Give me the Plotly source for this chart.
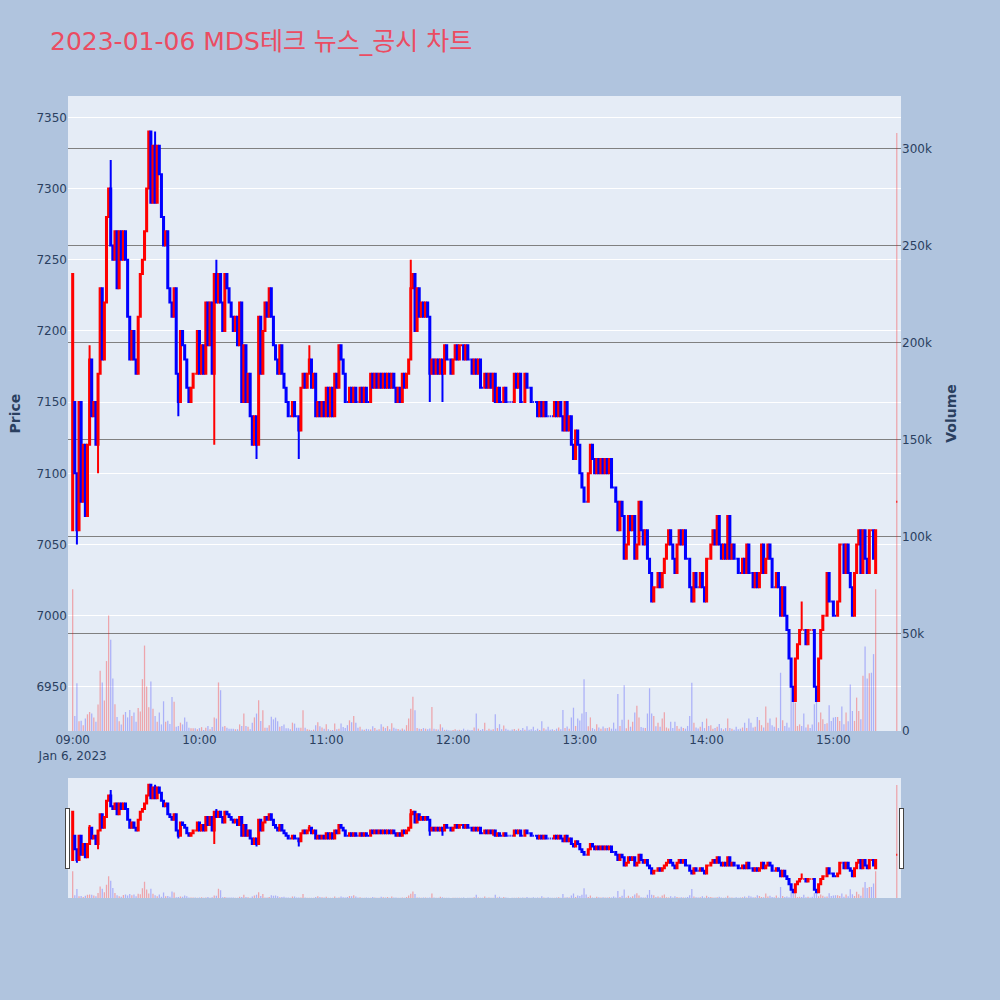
import pandas as pd
import plotly.graph_objects as go

# ---------------- 1-minute data, 09:00 .. 15:20 + closing auction ----------------
session_start = "2023-01-06 09:00"

closes = [
    7240, 7100, 7060, 7150, 7080, 7120, 7070, 7120, 7180, 7140,
    7150, 7120, 7170, 7230, 7180, 7220, 7280, 7300, 7260, 7250,
    7270, 7230, 7270, 7250, 7270, 7250, 7210, 7180, 7200, 7180,
    7170, 7210, 7240, 7250, 7270, 7300, 7340, 7290, 7330, 7290,
    7330, 7310, 7280, 7260, 7270, 7230, 7220, 7210, 7230, 7170,
    7150, 7200, 7190, 7180, 7160, 7150, 7160, 7170, 7170, 7200,
    7170, 7190, 7170, 7220, 7190, 7220, 7170, 7240, 7220, 7240,
    7220, 7200, 7240, 7230, 7220, 7210, 7200, 7210, 7190, 7220,
    7150, 7190, 7150, 7170, 7140, 7120, 7140, 7120, 7210, 7170,
    7200, 7220, 7210, 7230, 7210, 7190, 7180, 7170, 7190, 7170,
    7160, 7150, 7140, 7140, 7150, 7140, 7140, 7130, 7160, 7170,
    7160, 7170, 7180, 7160, 7170, 7140, 7150, 7140, 7150, 7140,
    7160, 7140, 7160, 7140, 7170, 7160, 7190, 7180, 7170, 7150,
    7150, 7160, 7150, 7160, 7150, 7150, 7160, 7150, 7160, 7150,
    7150, 7170, 7160, 7170, 7160, 7170, 7160, 7170, 7160, 7170,
    7160, 7170, 7160, 7150, 7160, 7150, 7170, 7160, 7170, 7180,
    7230, 7240, 7200, 7230, 7210, 7220, 7210, 7220, 7210, 7170,
    7180, 7170, 7180, 7170, 7180, 7170, 7190, 7180, 7180, 7170,
    7180, 7190, 7180, 7190, 7190, 7180, 7190, 7180, 7180, 7170,
    7180, 7170, 7180, 7160, 7160, 7170, 7160, 7170, 7160, 7170,
    7150, 7160, 7150, 7150, 7160, 7150, 7150, 7150, 7150, 7170,
    7160, 7170, 7150, 7150, 7170, 7160, 7160, 7150, 7150, 7150,
    7140, 7150, 7140, 7150, 7140, 7140, 7140, 7140, 7150, 7140,
    7150, 7140, 7130, 7150, 7130, 7140, 7120, 7110, 7130, 7120,
    7100, 7090, 7080, 7080, 7100, 7120, 7110, 7100, 7110, 7100,
    7110, 7100, 7110, 7100, 7110, 7090, 7090, 7080, 7060, 7080,
    7070, 7040, 7050, 7070, 7060, 7070, 7040, 7050, 7080, 7060,
    7050, 7060, 7040, 7030, 7010, 7020, 7020, 7030, 7020, 7030,
    7040, 7050, 7060, 7050, 7040, 7030, 7050, 7060, 7050, 7060,
    7040, 7040, 7020, 7010, 7030, 7020, 7020, 7030, 7020, 7010,
    7040, 7040, 7050, 7060, 7050, 7070, 7050, 7040, 7050, 7040,
    7070, 7040, 7050, 7040, 7040, 7030, 7030, 7040, 7030, 7050,
    7030, 7030, 7020, 7030, 7020, 7030, 7050, 7030, 7040, 7050,
    7040, 7020, 7020, 7030, 7020, 7000, 7020, 7000, 6990, 6970,
    6950, 6940, 6970, 6980, 6990, 6990, 6990, 6980, 6990, 6990,
    6990, 6950, 6940, 6970, 6990, 7000, 7000, 7030, 7010, 7010,
    7000, 7000, 7010, 7050, 7050, 7030, 7050, 7030, 7020, 7000,
    7030, 7050, 7060, 7030, 7060, 7040, 7030, 7060, 7060, 7040,
    7060,
]

volumes = [
    73000, 7700, 24600, 5000, 5300, 3000, 6400, 8600, 9800, 9000,
    7000, 4800, 13600, 31000, 25000, 15700, 36000, 59500, 47000, 27000,
    13800, 7200, 5000, 3400, 8400, 9800, 7000, 10800, 7700, 9500,
    4800, 11900, 10000, 26700, 44000, 22900, 12200, 25500, 11500, 7700,
    4800, 9500, 3400, 15300, 4800, 5300, 3600, 17500, 15000, 2200,
    2600, 4300, 3400, 7000, 4800, 1700, 1400, 1400, 1400, 900,
    1500, 2000, 500, 1700, 2600, 900, 2000, 7000, 6400, 25000,
    21000, 2200, 2600, 1700, 1200, 1200, 1200, 900, 900, 3400,
    2600, 9000, 2600, 2200, 900, 4300, 7000, 9000, 15800, 5200,
    10700, 1700, 1700, 2900, 7400, 6000, 6900, 5000, 2200, 2600,
    3400, 1400, 1400, 900, 4300, 3800, 1700, 1700, 1700, 10700,
    1700, 900, 600, 400, 700, 3000, 4500, 2500, 1800, 1200,
    3500, 900, 400, 500, 3800, 900, 1200, 3800, 2000, 1500,
    3000, 5500, 4500, 7700, 4300, 1700, 2200, 800, 600, 1100,
    900, 800, 2400, 1500, 600, 900, 3500, 2200, 1500, 2500,
    900, 4000, 1700, 1200, 1000, 600, 1300, 700, 3000, 6500,
    11500, 17700, 10700, 1500, 1200, 1000, 1500, 1200, 900, 1300,
    12400, 1200, 900, 800, 3500, 1800, 600, 700, 400, 300,
    500, 900, 400, 600, 400, 1200, 300, 700, 400, 500,
    1800, 9000, 1200, 500, 1000, 4300, 400, 1100, 600, 900,
    8600, 1500, 3500, 900, 2800, 1200, 600, 300, 800, 1000,
    400, 1200, 500, 1500, 700, 2400, 600, 900, 2200, 400,
    1200, 500, 5000, 1400, 800, 2200, 600, 900, 400, 1200,
    1800, 900, 10800, 1500, 2300, 1200, 7000, 12000, 2600, 6500,
    5400, 9000, 26700, 9800, 2500, 7000, 1500, 900, 3500, 1800,
    1200, 2300, 1400, 1600, 1900, 1200, 4300, 1200, 19000, 2600,
    5800, 23500, 1400, 5800, 2200, 4700, 9500, 13000, 7000, 2000,
    1700, 1500, 9000, 22000, 9000, 7700, 2500, 4300, 2200, 6500,
    9600, 1800, 1300, 4700, 1600, 4700, 2600, 1200, 2200, 1500,
    1200, 2600, 7700, 24800, 4300, 1800, 1300, 2200, 4700, 1500,
    6400, 2600, 2900, 1200, 1500, 2200, 3600, 1400, 800, 1500,
    6400, 1500, 1200, 700, 2200, 900, 1200, 1800, 4300, 1500,
    6400, 4300, 1800, 2200, 7200, 5600, 3000, 1800, 12600, 4300,
    6400, 3000, 2200, 6900, 1500, 30000, 5500, 2600, 4300, 1800,
    30000, 19800, 14600, 2600, 3400, 2600, 9000, 1800, 3400, 1500,
    3400, 13800, 15500, 4500, 9500, 6000, 3600, 4000, 13200, 5200,
    6900, 7200, 7200, 5200, 12600, 3500, 9500, 5000, 24000, 10300,
    5200, 17200, 10300, 6000, 28400, 43500, 27000, 29800, 30000, 39600,
    73000,
]

first_open = 7060
open_fix = {1: 7150, 380: 7030}          # minutes whose open differs from prior close
high_fix = {8: 7190, 18: 7320, 39: 7340, 68: 7250, 112: 7190, 160: 7250,
            345: 7010, 375: 7060}
low_fix = {2: 7050, 12: 7100, 50: 7140, 67: 7120, 87: 7110, 107: 7110,
           169: 7150, 175: 7150, 199: 7150}

auction_time = "2023-01-06 15:30"
auction_price = 7080
auction_volume = 308000

# ---------------- build OHLC ----------------
times = list(pd.date_range(session_start, periods=len(closes), freq="min"))
opens, highs, lows = [], [], []
prev = first_open
for i, c in enumerate(closes):
    o = open_fix.get(i, prev if i else first_open)
    opens.append(o)
    highs.append(high_fix.get(i, max(o, c)))
    lows.append(low_fix.get(i, min(o, c)))
    prev = c

times.append(pd.Timestamp(auction_time))
opens.append(auction_price)
highs.append(auction_price)
lows.append(auction_price)
closes = closes + [auction_price]
volumes = volumes + [auction_volume]

# volume colour follows candle direction (flat -> compare with prior close)
vol_colors = []
last_c = None
for o, c in zip(opens, closes):
    up = c > o if c != o else (last_c is not None and c > last_c)
    vol_colors.append("rgba(255,0,0,0.3)" if up else "rgba(0,0,255,0.25)")
    last_c = c

# ---------------- figure ----------------
FONT = "DejaVu Sans, Noto Sans CJK KR, sans-serif"

fig = go.Figure()
fig.add_trace(go.Candlestick(
    x=times, open=opens, high=highs, low=lows, close=closes,
    increasing=dict(line=dict(color="red"), fillcolor="red"),
    decreasing=dict(line=dict(color="blue"), fillcolor="blue"),
    name="Price", showlegend=False,
))
fig.add_trace(go.Bar(
    x=times, y=volumes, marker=dict(color=vol_colors, line=dict(width=0)),
    yaxis="y2", name="Volume", showlegend=False,
))

fig.update_layout(
    width=1000, height=1000,
    paper_bgcolor="#b0c4de",
    plot_bgcolor="#e5ecf6",
    font=dict(family=FONT, size=12),
    title=dict(text="2023-01-06 MDS테크 뉴스_공시 차트", x=0.05, y=0.959,
               yanchor="middle",
               font=dict(size=25, color="#eb4c62", family=FONT)),
    margin=dict(l=68, r=99, t=96, b=102),
    xaxis=dict(
        range=["2023-01-06 08:57:47", "2023-01-06 15:32:00"],
        rangeslider=dict(visible=True, thickness=0.15, bgcolor="#e5ecf6"),
        showgrid=False,
    ),
    yaxis=dict(title=dict(text="<b>Price</b>", standoff=12),
               range=[6919, 7365], dtick=50, gridcolor="white"),
    yaxis2=dict(title=dict(text="<b>Volume</b>"), overlaying="y", side="right",
                range=[0, 327000], dtick=50000, gridcolor="gray",
                showgrid=True, zeroline=False),
    bargap=0.4,
)

# page without the browser's default body margin, so the chart fills the window
fig.write_html("out.html",
               config={"displayModeBar": False},
               post_script="document.body.style.margin='0';")
